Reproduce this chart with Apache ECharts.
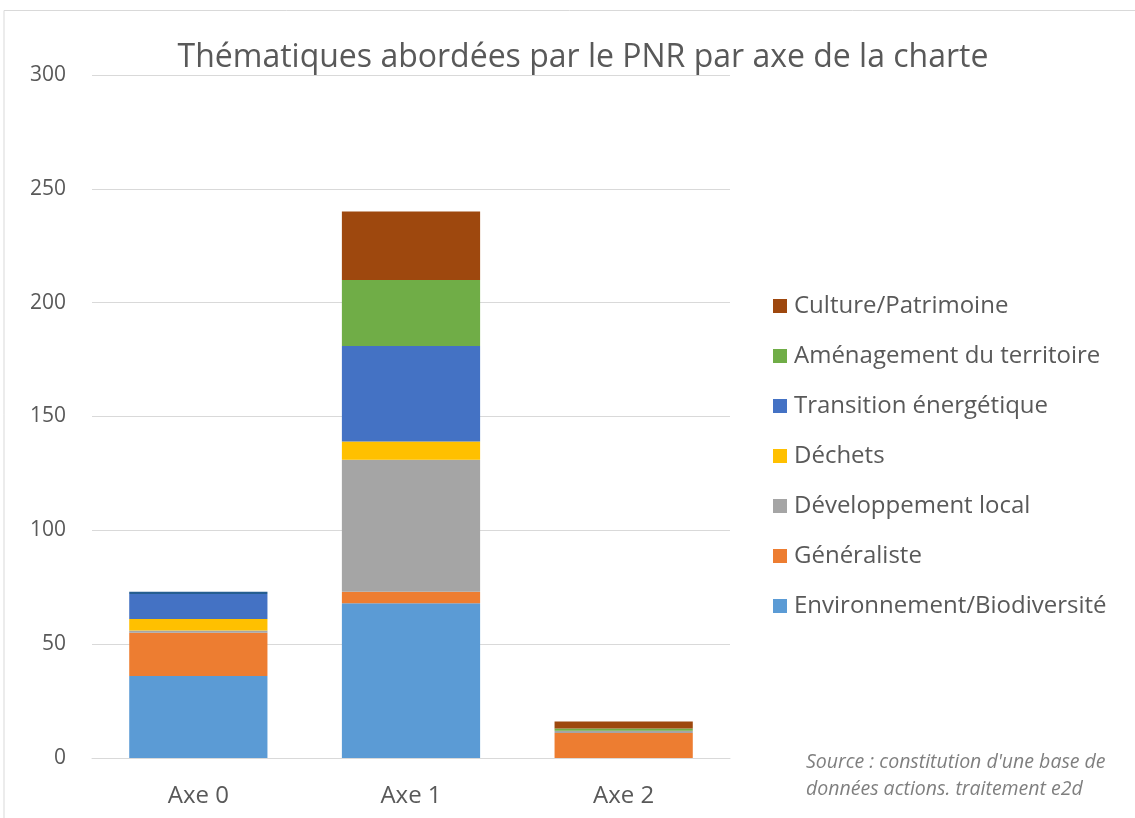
<!DOCTYPE html>
<html>
<head>
<meta charset="utf-8">
<script src="https://cdn.jsdelivr.net/npm/echarts@6/dist/echarts.min.js"></script>
<style>
  html, body { margin: 0; padding: 0; background: #fff; }
  #main { width: 1135px; height: 818px; }
</style>
</head>
<body>
<div id="main"></div>
<script>
var categories = ['Axe 0', 'Axe 1', 'Axe 2'];
var yTicks = [0, 50, 100, 150, 200, 250, 300];

var environnement = [36, 68, 0];
var generaliste   = [19, 5, 11];
var developpement = [1, 58, 1];
var dechets       = [5, 8, 0];
var transition    = [11, 42, 0];
var amenagement   = [0, 29, 1];
var culture       = [0, 30, 3];
var autre         = [1, 0, 0];

var seriesNames = ['Environnement/Biodiversité', 'Généraliste', 'Développement local',
  'Déchets', 'Transition énergétique', 'Aménagement du territoire', 'Culture/Patrimoine', 'Autre'];
var seriesValues = [environnement, generaliste, developpement, dechets, transition, amenagement, culture, autre];
var colors = ['#5B9BD5', '#ED7D31', '#A5A5A5', '#FFC000', '#4472C4', '#70AD47', '#9E480E', '#255E91'];

var font = '"Open Sans", "Liberation Sans", sans-serif';
var textGray = '#595959';

var chart = echarts.init(document.getElementById('main'));

chart.setOption({
  animation: false,
  backgroundColor: '#fff',
  title: {
    text: 'Thématiques abordées par le PNR par axe de la charte',
    left: 578, top: 37, textAlign: 'center',
    textStyle: { fontFamily: font, fontSize: 32, fontWeight: 'normal', color: textGray }
  },
  graphic: [
    { type: 'polyline', shape: { points: [[4, 818], [4, 10.5], [1135, 10.5]] },
      style: { stroke: '#d9d9d9', lineWidth: 1, fill: null } },
    { type: 'text', left: 806, top: 749,
      style: { text: "Source : constitution d'une base de\ndonnées actions. traitement e2d",
        font: 'italic 19.5px ' + font, fill: '#7f7f7f', lineHeight: 27 } }
  ],
  legend: {
    orient: 'vertical', left: 768, top: 289,
    data: seriesNames.slice(0, 7).reverse(),
    itemWidth: 14, itemHeight: 14, itemGap: 26,
    icon: 'rect',
    textStyle: { fontFamily: font, fontSize: 24, color: textGray, padding: [0, 0, 0, 2] }
  },
  grid: { left: 92, right: 405, top: 75, bottom: 60 },
  xAxis: {
    type: 'category', data: categories,
    axisLine: { lineStyle: { color: '#d9d9d9', width: 1 } },
    axisTick: { show: false },
    axisLabel: { fontFamily: font, fontSize: 24, color: textGray, margin: 26 }
  },
  yAxis: {
    type: 'value', min: yTicks[0], max: yTicks[yTicks.length - 1], interval: 50,
    axisLine: { show: false }, axisTick: { show: false },
    splitLine: { lineStyle: { color: '#d9d9d9', width: 1 } },
    axisLabel: { fontFamily: font, fontSize: 21, color: textGray, margin: 26 }
  },
  series: seriesNames.map(function (name, i) {
    return {
      name: name, type: 'bar', stack: 'total',
      barWidth: '65%',
      itemStyle: { color: colors[i] },
      data: seriesValues[i]
    };
  })
});
</script>
</body>
</html>
